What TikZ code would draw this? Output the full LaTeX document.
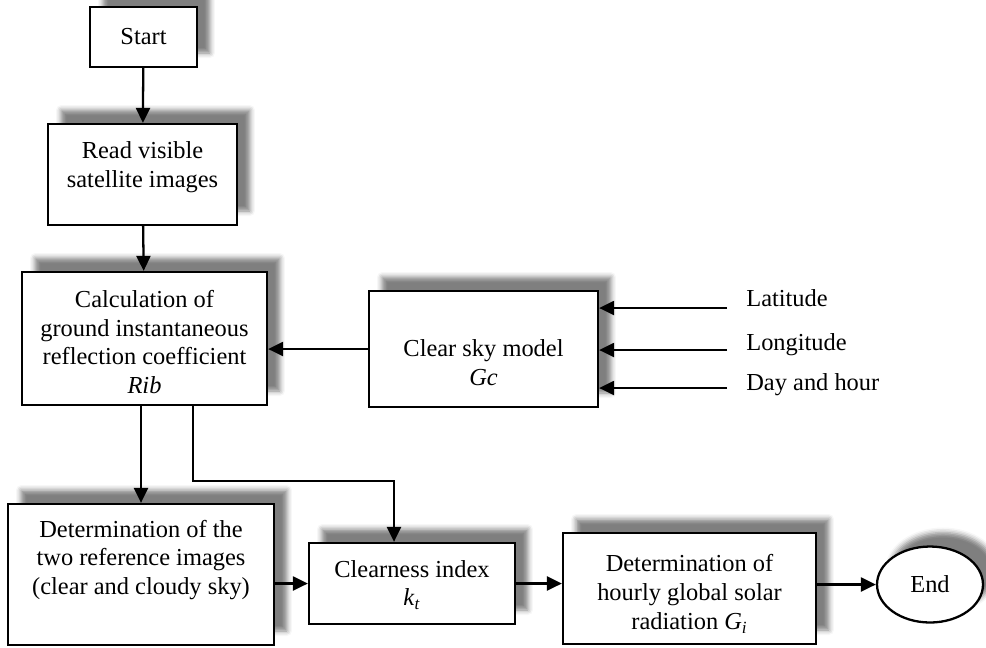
\documentclass[tikz,border=0pt]{standalone}
\usepackage{fontspec}
\setmainfont{Liberation Serif}
\usetikzlibrary{arrows.meta,shapes.geometric,shadows.blur}
\tikzset{>={Triangle[length=3mm,width=2.8mm]}}

\begin{document}
\begin{tikzpicture}[x=0.02cm, y=-0.02cm,
                    box/.style={draw, line width=1.3pt, fill=white, inner sep=0pt,
                                font=\fontsize{13.9}{16.4}\selectfont,
                                blur shadow={shadow xshift=0.26cm, shadow yshift=0.28cm,
                                             shadow blur radius=0.1cm, shadow opacity=50}},
                    txt/.style={align=center, inner sep=0pt, font=\fontsize{13.9}{16.4}\selectfont},
                    arr/.style={line width=1.3pt, ->},
                   ]

\useasboundingbox (0,0) rectangle (986,647);

% main column
\node[box, minimum width=2.14cm, minimum height=1.2cm] (start) at (143.5,37) {Start};
\node[box, minimum width=3.78cm, minimum height=2.02cm] (read) at (142.5,174.5) {};
\node[txt] (read-t) at (142.5,167) {Read visible\\satellite images};
\node[box, minimum width=4.9cm, minimum height=2.66cm] (calc) at (144.5,338.5) {};
\node[txt] (calc-t) at (144.5,342) {Calculation of\\ground instantaneous\\reflection coefficient\\\textit{Rib}};

% clear sky model and its inputs
\node[box, minimum width=4.58cm, minimum height=2.32cm] (clear) at (483.5,349) {};
\node[txt] (clear-t) at (483.5,363) {Clear sky model\\\textit{Gc}};

\node[txt, anchor=base west] (lat) at (746,306) {Latitude};
\node[txt, anchor=base west] (lon) at (746,350) {Longitude};
\node[txt, anchor=base west] (day) at (746,390) {Day and hour};
\coordinate (lat-in) at (727,308);
\coordinate (lon-in) at (727,350);
\coordinate (day-in) at (727,388);

% bottom row
\node[box, minimum width=5.32cm, minimum height=2.82cm] (det) at (141,574.5) {};
\node[txt] (det-t) at (141,560) {Determination of the\\two reference images\\(clear and cloudy sky)};
\node[box, minimum width=4.12cm, minimum height=1.62cm] (kt) at (412,583.5) {};
\node[txt] (kt-t) at (412,585) {Clearness index\\\textit{k}\textsubscript{\textit{t}}};
\node[box, minimum width=5.06cm, minimum height=2.22cm] (hourly) at (689.5,588.5) {};
\node[txt] (hourly-t) at (689.5,594) {Determination of\\hourly global solar\\radiation \textit{G}\textsubscript{\textit{i}}};
\node[box, ellipse, minimum width=2.12cm, minimum height=1.52cm] (end) at (930,584.5) {End};

\coordinate (rib-out) at (193,0);
\coordinate (kt-in) at (394,0);

% connectors
\draw[arr] (start) -- (read);
\draw[arr] (read) -- (calc);
\draw[arr] (clear.west) -- (clear.west -| calc.east);
\draw[arr] (lat-in) -- (lat-in -| clear.east);
\draw[arr] (lon-in) -- (lon-in -| clear.east);
\draw[arr] (day-in) -- (day-in -| clear.east);
\draw[arr] (calc.south -| det.north) -- (det.north);
\draw[arr] (calc.south -| rib-out) -- ++(0,75) -| (kt.north -| kt-in);
\draw[arr] (det.east |- kt.west) -- (kt.west);
\draw[arr] (kt.east) -- (kt.east -| hourly.west);
\draw[arr] (hourly.east |- end.west) -- (end.west);

\end{tikzpicture}
\end{document}
